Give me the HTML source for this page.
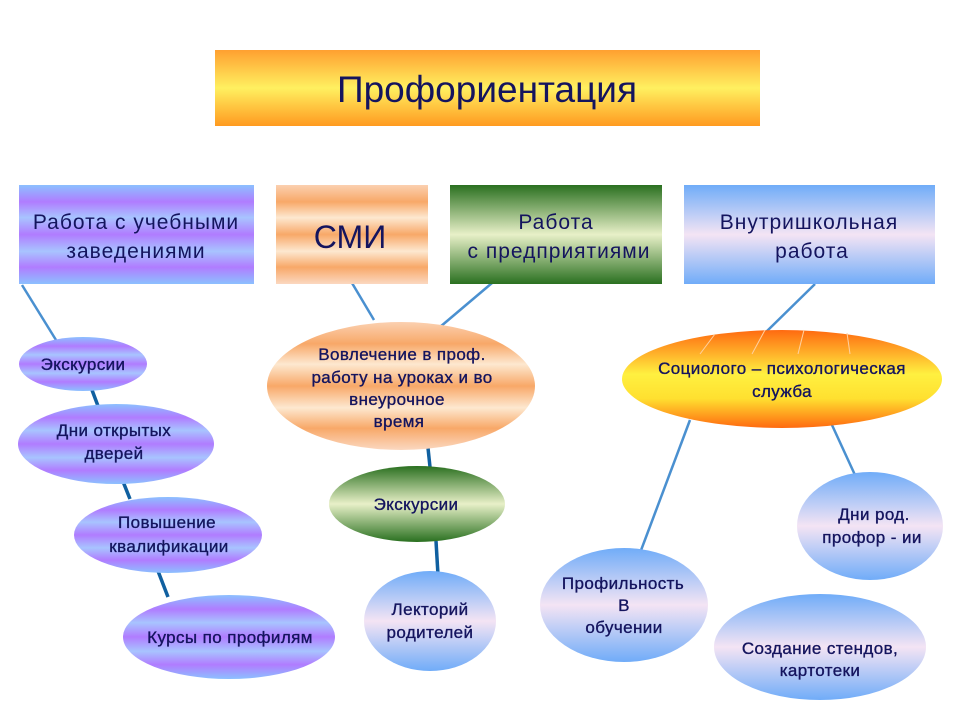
<!DOCTYPE html>
<html><head><meta charset="utf-8"><style>
html,body{margin:0;padding:0;background:#fff;}
svg{display:block;}
text{font-family:"Liberation Sans","DejaVu Sans",sans-serif;fill:#14145e;text-anchor:middle;}
.e{font-size:17px;letter-spacing:0.4px;stroke:#14145e;stroke-width:0.35;}
.b{font-size:21px;letter-spacing:1px;}
</style></head><body>
<svg width="960" height="720" viewBox="0 0 960 720" xmlns="http://www.w3.org/2000/svg">
<defs>
<linearGradient id="title" x1="0" y1="0" x2="0" y2="1">
<stop offset="0" stop-color="#ffa030"/><stop offset="0.5" stop-color="#fff060"/><stop offset="1" stop-color="#ff9a20"/></linearGradient>
<linearGradient id="purp" x1="0" y1="0" x2="0" y2="1">
<stop offset="0" stop-color="#8cc0ff"/><stop offset="0.17" stop-color="#b07cff"/><stop offset="0.33" stop-color="#a8c4ff"/><stop offset="0.5" stop-color="#b07cff"/><stop offset="0.67" stop-color="#a8c4ff"/><stop offset="0.83" stop-color="#b07cff"/><stop offset="1" stop-color="#8cc0ff"/></linearGradient>
<linearGradient id="orng" x1="0" y1="0" x2="0" y2="1">
<stop offset="0" stop-color="#fbd0b0"/><stop offset="0.17" stop-color="#f8a868"/><stop offset="0.33" stop-color="#fde8d0"/><stop offset="0.5" stop-color="#f8a868"/><stop offset="0.67" stop-color="#fde8d0"/><stop offset="0.83" stop-color="#f8a868"/><stop offset="1" stop-color="#fbd8c0"/></linearGradient>
<linearGradient id="green" x1="0" y1="0" x2="0" y2="1">
<stop offset="0" stop-color="#2a7020"/><stop offset="0.5" stop-color="#e8f0c8"/><stop offset="1" stop-color="#2a7020"/></linearGradient>
<linearGradient id="blue" x1="0" y1="0" x2="0" y2="1">
<stop offset="0" stop-color="#70acf8"/><stop offset="0.5" stop-color="#f4e4f4"/><stop offset="1" stop-color="#70acf8"/></linearGradient>
<linearGradient id="sun" x1="0" y1="0" x2="0" y2="1">
<stop offset="0" stop-color="#ff6a10"/><stop offset="0.45" stop-color="#fff040"/><stop offset="0.7" stop-color="#ffe030"/><stop offset="1" stop-color="#ff6a10"/></linearGradient>
</defs>

<g stroke="#4a90d0" stroke-width="2.5" fill="none">
<line x1="22" y1="285" x2="56" y2="340"/>
<line x1="352" y1="283" x2="374" y2="320"/>
<line x1="492" y1="283" x2="440" y2="327"/>
<line x1="815" y1="284" x2="765" y2="333"/>
<line x1="690" y1="420" x2="640" y2="553"/>
<line x1="832" y1="425" x2="855" y2="475"/>
</g>
<g stroke="#1060a0" stroke-width="3.5">
<line x1="92" y1="390" x2="98" y2="406"/>
<line x1="120" y1="474" x2="130" y2="499"/>
<line x1="158" y1="571" x2="168" y2="597"/>
<line x1="428" y1="448" x2="430" y2="467"/>
<line x1="436" y1="541" x2="438" y2="575"/>
</g>

<rect x="215" y="50" width="545" height="76" fill="url(#title)"/>
<text x="487" y="102" style="font-size:37px">Профориентация</text>

<rect x="19" y="185" width="235" height="99" fill="url(#purp)"/>
<text class="b" x="136" y="229">Работа с учебными</text>
<text class="b" x="136" y="258">заведениями</text>
<rect x="276" y="185" width="152" height="99" fill="url(#orng)"/>
<text x="350" y="248" style="font-size:32px">СМИ</text>
<rect x="450" y="185" width="212" height="99" fill="url(#green)"/>
<text class="b" x="556" y="229">Работа</text>
<text class="b" x="559" y="258">с предприятиями</text>
<rect x="684" y="185" width="251" height="99" fill="url(#blue)"/>
<text class="b" x="809" y="229">Внутришкольная</text>
<text class="b" x="812" y="258">работа</text>

<ellipse cx="83" cy="364" rx="64" ry="27" fill="url(#purp)"/>
<text class="e" x="83" y="370">Экскурсии</text>
<ellipse cx="116" cy="444" rx="98" ry="40" fill="url(#purp)"/>
<text class="e" x="114" y="436">Дни открытых</text>
<text class="e" x="114" y="459">дверей</text>
<ellipse cx="168" cy="535" rx="94" ry="38" fill="url(#purp)"/>
<text class="e" x="167" y="528">Повышение</text>
<text class="e" x="169" y="552">квалификации</text>
<ellipse cx="229" cy="637" rx="106" ry="42" fill="url(#purp)"/>
<text class="e" x="230" y="643">Курсы  по профилям</text>

<ellipse cx="401" cy="386" rx="134" ry="64" fill="url(#orng)"/>
<text class="e" x="402" y="360">Вовлечение в проф.</text>
<text class="e" x="402" y="383">работу на уроках и во</text>
<text class="e" x="397" y="405">внеурочное</text>
<text class="e" x="399" y="427">время</text>
<ellipse cx="417" cy="504" rx="88" ry="38" fill="url(#green)"/>
<text class="e" x="416" y="510">Экскурсии</text>
<ellipse cx="430" cy="621" rx="66" ry="50" fill="url(#blue)"/>
<text class="e" x="430" y="615">Лекторий</text>
<text class="e" x="430" y="638">родителей</text>

<ellipse cx="782" cy="379" rx="160" ry="49" fill="url(#sun)"/>
<g stroke="#ffd0a0" stroke-width="1">
<line x1="700" y1="354" x2="715" y2="334"/><line x1="752" y1="354" x2="765" y2="330"/>
<line x1="798" y1="354" x2="804" y2="330"/><line x1="850" y1="354" x2="847" y2="333"/>
</g>
<text class="e" x="782" y="374">Социолого – психологическая</text>
<text class="e" x="782" y="397">служба</text>
<ellipse cx="870" cy="526" rx="73" ry="54" fill="url(#blue)"/>
<text class="e" x="874" y="520">Дни  род.</text>
<text class="e" x="872" y="543">профор - ии</text>
<ellipse cx="624" cy="605" rx="84" ry="57" fill="url(#blue)"/>
<text class="e" x="623" y="589">Профильность</text>
<text class="e" x="624" y="611">В</text>
<text class="e" x="624" y="633">обучении</text>
<ellipse cx="820" cy="647" rx="106" ry="53" fill="url(#blue)"/>
<text class="e" x="820" y="654">Создание стендов,</text>
<text class="e" x="820" y="676">картотеки</text>
</svg>
</body></html>
